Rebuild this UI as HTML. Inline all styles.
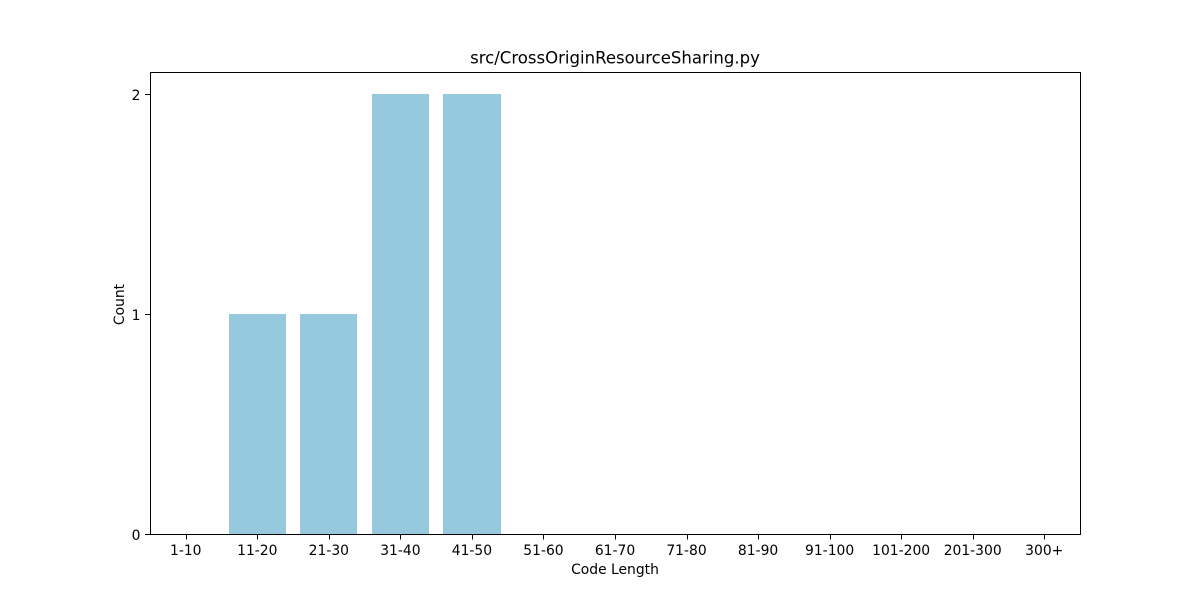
<!DOCTYPE html>
<html lang="en">
<head>
<meta charset="utf-8">
<title>src/CrossOriginResourceSharing.py</title>
<style>
html,body{margin:0;padding:0;background:#fff;width:1200px;height:600px;overflow:hidden}
svg{display:block}
text{font-family:"DejaVu Sans",sans-serif;fill:#000}
</style>
</head>
<body>
<svg id="chart" width="1200" height="600" viewBox="0 0 1200 600" xmlns="http://www.w3.org/2000/svg">
  <rect x="0" y="0" width="1200" height="600" fill="#ffffff"></rect>
  <g id="bars"></g>
  <g id="ticks"></g>
  <rect x="150.5" y="72.5" width="930" height="462" fill="none" stroke="#000" stroke-width="1"></rect>
  <text x="615" y="63.5" font-size="16.55" text-anchor="middle">src/CrossOriginResourceSharing.py</text>
  <text x="615" y="574" font-size="13.89" text-anchor="middle">Code Length</text>
  <text transform="translate(124,304.5) rotate(-90)" font-size="13.89" text-anchor="middle">Count</text>
</svg>
<script>
const categories = ['1-10','11-20','21-30','31-40','41-50','51-60','61-70','71-80','81-90','91-100','101-200','201-300','300+'];
const counts = [0,1,1,2,2,0,0,0,0,0,0,0,0];
const yTicks = [0,1,2];

const NS = 'http://www.w3.org/2000/svg';
const plot = {left:150,right:1080,top:72,bottom:534};
const yMax = Math.max(...counts, 0) * 1.05 || 1;
const step = (plot.right - plot.left) / categories.length;
const xScale = i => plot.left + (i + 0.5) * step;
const yScale = v => plot.bottom - (v / yMax) * (plot.bottom - plot.top);
const barsGroup = document.getElementById('bars');
const ticksGroup = document.getElementById('ticks');

function make(tag, attrs, parent, text) {
  const el = document.createElementNS(NS, tag);
  for (const k in attrs) el.setAttribute(k, attrs[k]);
  if (text !== undefined) el.textContent = text;
  parent.appendChild(el);
  return el;
}

categories.forEach((c, i) => {
  const half = step * 0.4;
  const x0 = Math.round(xScale(i) - half);
  const x1 = Math.round(xScale(i) + half);
  const y = Math.round(yScale(counts[i]));
  const bar = make('rect', {x: x0, y: y, width: x1 - x0, height: plot.bottom - y, fill: '#96c9dd'}, barsGroup);
  
  

  const tx = Math.round(xScale(i)) + 0.5;
  const tick = make('line', {x1: tx, x2: tx, y1: plot.bottom, y2: plot.bottom + 5.5, stroke: '#000', 'stroke-width': 1}, ticksGroup);
  
  

  const label = make('text', {x: xScale(i), y: 555, 'font-size': 13.89, 'text-anchor': 'middle'}, ticksGroup, c);
  
  
});

yTicks.forEach(v => {
  const y = Math.round(yScale(v));
  const tick = make('line', {x1: plot.left - 5, x2: plot.left, y1: y + 0.5, y2: y + 0.5, stroke: '#000', 'stroke-width': 1}, ticksGroup);
  
  

  const label = make('text', {x: 140.5, y: y + 6, 'font-size': 13.89, 'text-anchor': 'end'}, ticksGroup, String(v));
  
  
});
</script>
</body>
</html>
